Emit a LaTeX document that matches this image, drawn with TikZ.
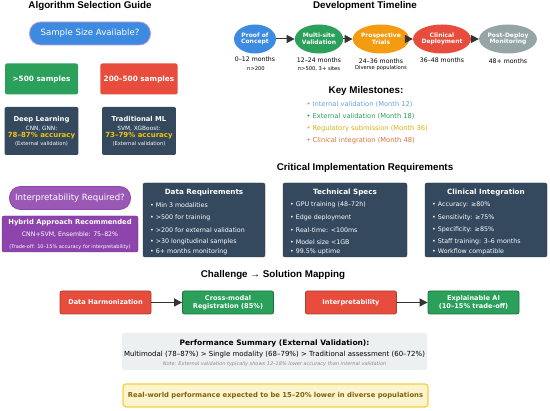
\documentclass[tikz,border=0pt]{standalone}
\usepackage{fontspec}
\setmainfont{DejaVu Sans}
\newfontfamily\headfont{Liberation Sans}
\usetikzlibrary{shapes.geometric,arrows.meta}

\definecolor{sblue}{HTML}{3D8BE0}
\definecolor{sgreen}{HTML}{2AA05A}
\definecolor{sred}{HTML}{E74C3C}
\definecolor{sorange}{HTML}{F39C12}
\definecolor{sgray}{HTML}{95A5A6}
\definecolor{sdark}{HTML}{34495E}
\definecolor{spurple}{HTML}{9B59B6}
\definecolor{sdeep}{HTML}{8E44AD}
\definecolor{sgold}{HTML}{F1C40F}
\definecolor{solive}{HTML}{7D6608}
\definecolor{sbrown}{HTML}{A5432F}
\definecolor{smile}{HTML}{D9703A}
\definecolor{spanel}{HTML}{ECF0F1}
\definecolor{scream}{HTML}{FCF3CF}

\begin{document}
\begin{tikzpicture}[x=1pt,y=-1pt,
    head/.style={font=\headfont\bfseries\fontsize{9.8}{11}\selectfont},
    pill/.style={rounded corners=11pt,minimum width=121pt,minimum height=23pt,
      text=white,font=\fontsize{8.6}{10}\selectfont},
    choice/.style={rounded corners=2pt,minimum width=73pt,minimum height=31pt,
      text=white,font=\bfseries\fontsize{7.3}{8}\selectfont},
    model/.style={rounded corners=2pt,fill=sdark,minimum width=73pt,minimum height=48pt,
      text=white,align=center,font=\fontsize{5.8}{7}\selectfont},
    stage/.style={ellipse,minimum width=42pt,minimum height=29pt,inner sep=0pt,
      text=white,align=center,font=\bfseries\fontsize{6}{6.6}\selectfont},
    when/.style={font=\fontsize{6.2}{7}\selectfont},
    whennote/.style={font=\fontsize{5.2}{6}\selectfont},
    flow/.style={line width=1pt,draw=black!80,-{Triangle[length=8pt,width=8pt]}},
    mile/.style={anchor=west,font=\fontsize{6.7}{8}\selectfont},
    panel/.style={rounded corners=2pt,fill=sdark,draw=sdark!70!black},
    paneltitle/.style={text=white,font=\bfseries\fontsize{7.2}{8}\selectfont},
    item/.style={anchor=west,text=white,inner sep=0pt,font=\fontsize{6.3}{7}\selectfont},
    issue/.style={rounded corners=2pt,fill=sred,draw=sbrown,line width=0.8pt,
      minimum width=91pt,minimum height=23pt,text=white,align=center,
      font=\bfseries\fontsize{6.6}{8}\selectfont},
    fix/.style={issue,fill=sgreen,draw=sgreen!70!black}]

    \useasboundingbox (0,0) rectangle (550,411);

    % Left column - algorithm selection
    \node[head] (algtitle) at (90,6) {Algorithm Selection Guide};
    \node[pill,fill=sblue,draw=spurple!60,line width=0.8pt] (size) at (90,33.5) {Sample Size Available?};
    \node[choice,fill=sgreen] (large) at (41.5,79) {>500 samples};
    \node[choice,fill=sred] (medium) at (139,79) {200–500 samples};
    \node[model] (deep) at (41.5,131)
      {{\bfseries\fontsize{6.8}{8}\selectfont Deep Learning}\\[2.5pt]
       CNN, GNN:\\
       {\color{sgold}\bfseries\fontsize{7}{8}\selectfont 78–87\% accuracy}\\[0.5pt]
       {\fontsize{5.2}{6}\selectfont (External validation)}};
    \node[model] (classic) at (139,131)
      {{\bfseries\fontsize{6.8}{8}\selectfont Traditional ML}\\[2.5pt]
       SVM, XGBoost:\\
       {\color{sgold}\bfseries\fontsize{7}{8}\selectfont 73–79\% accuracy}\\[0.5pt]
       {\fontsize{5.2}{6}\selectfont (External validation)}};
    \node[pill,fill=spurple,draw=sdeep,line width=0.8pt] (interp) at (70,198) {Interpretability Required?};
    \node[rounded corners=2pt,fill=sdeep,draw=sdeep!70!black,minimum width=136pt,minimum height=36pt,
      text=white,align=center,inner sep=1pt] (hybrid) at (70,234)
      {{\bfseries\fontsize{6.8}{8.5}\selectfont Hybrid Approach Recommended}\\
       {\fontsize{6.2}{7.5}\selectfont CNN+SVM, Ensemble: 75–82\%}\\
       {\fontsize{5}{7}\selectfont (Trade-off: 10–15\% accuracy for interpretability)}};

    % Top right - development timeline
    \node[head] (devtitle) at (365,6) {Development Timeline};
    \node[stage,fill=sblue] (poc) at (255,39) {Proof of\\Concept};
    \node[stage,fill=sgreen] (multi) at (319,39) {Multi-site\\Validation};
    \node[stage,fill=sorange] (trials) at (381,39) {Prospective\\Trials};
    \node[stage,fill=sred] (deploy) at (442,39) {Clinical\\Deployment};
    \node[stage,fill=sgray] (monitor) at (508,39) {Post-Deploy\\Monitoring};
    \draw[flow] (poc) -- (multi);
    \draw[flow] (multi) -- (trials);
    \draw[flow] (trials) -- (deploy);
    \draw[flow] (deploy) -- (monitor);
    \node[when] (t1) at (255,59) {0–12 months};
    \node[when] (t2) at (319,60) {12–24 months};
    \node[when] (t3) at (381,61) {24–36 months};
    \node[when] (t4) at (442,60) {36–48 months};
    \node[when] (t5) at (508,61) {48+ months};
    \node[whennote] (n1) at (256,69) {n>200};
    \node[whennote] (n2) at (319,68.5) {n>500, 3+ sites};
    \node[whennote] (n3) at (381,68.5) {Diverse populations};

    % Key milestones
    \node[head] (miletitle) at (366,91) {Key Milestones:};
    \node[mile,text=sblue!80] (m1) at (303,104) {• Internal validation (Month 12)};
    \node[mile,text=sgreen] (m2) at (303,116.5) {• External validation (Month 18)};
    \node[mile,text=sgold!90!black] (m3) at (303,129) {• Regulatory submission (Month 36)};
    \node[mile,text=smile] (m4) at (303,141) {• Clinical integration (Month 48)};

    % Critical implementation requirements
    \node[head] (reqtitle) at (365,168) {Critical Implementation Requirements};

    \begin{scope}[shift={(143,183)}]
      \draw[panel] (0,0) rectangle (122,74);
      \node[paneltitle] (datatitle) at (61,10) {Data Requirements};
      \node[item] (d1) at (7,22) {• Min 3 modalities};
      \node[item] (d2) at (7,35) {• >500 for training};
      \node[item] (d3) at (7,47) {• >200 for external validation};
      \node[item] (d4) at (7,59) {• >30 longitudinal samples};
      \node[item] (d5) at (7,69) {• 6+ months monitoring};
    \end{scope}

    \begin{scope}[shift={(283,183)}]
      \draw[panel] (0,0) rectangle (124,74);
      \node[paneltitle] (techtitle) at (62,10) {Technical Specs};
      \node[item] (s1) at (7,22) {• GPU training (48–72h)};
      \node[item] (s2) at (7,35) {• Edge deployment};
      \node[item] (s3) at (7,47) {• Real-time: <100ms};
      \node[item] (s4) at (7,59) {• Model size <1GB};
      \node[item] (s5) at (7,69) {• 99.5\% uptime};
    \end{scope}

    \begin{scope}[shift={(425,183)}]
      \draw[panel] (0,0) rectangle (122,74);
      \node[paneltitle] (clintitle) at (61,10) {Clinical Integration};
      \node[item] (c1) at (7,22) {• Accuracy: ≥80\%};
      \node[item] (c2) at (7,35) {• Sensitivity: ≥75\%};
      \node[item] (c3) at (7,47) {• Specificity: ≥85\%};
      \node[item] (c4) at (7,59) {• Staff training: 3–6 months};
      \node[item] (c5) at (7,69) {• Workflow compatible};
    \end{scope}

    % Challenge -> solution mapping
    \node[head] (maptitle) at (273,275) {Challenge → Solution Mapping};
    \node[issue] (harm) at (105.5,302.5) {Data Harmonization};
    \node[fix] (reg) at (228,302.5) {Cross-modal\\Registration (85\%)};
    \node[issue] (expl) at (351,302.5) {Interpretability};
    \node[fix] (xai) at (473.5,302.5) {Explainable AI\\(10–15\% trade-off)};
    \draw[flow] (harm) -- (reg);
    \draw[flow] (expl) -- (xai);

    % Performance summary
    \fill[spanel,rounded corners=2pt] (122,333) rectangle (427,370);
    \node[font=\bfseries\fontsize{7.5}{8}\selectfont] (perftitle) at (274.5,343) {Performance Summary (External Validation):};
    \node[font=\fontsize{7}{8}\selectfont] (perfline) at (274.5,355) {Multimodal (78–87\%) > Single modality (68–79\%) > Traditional assessment (60–72\%)};
    \node[text=black!45,font=\itshape\fontsize{5}{6}\selectfont] (perfnote) at (274.5,364.5) {Note: External validation typically shows 12–18\% lower accuracy than internal validation};

    % Warning banner
    \node[draw=sgold!80,line width=1.2pt,fill=scream,rounded corners=3pt,minimum width=305pt,minimum height=23pt,
      text=solive,font=\bfseries\fontsize{6.8}{8}\selectfont] (warn) at (275.5,395.5)
      {Real-world performance expected to be 15–20\% lower in diverse populations};

  \end{tikzpicture}
\end{document}
